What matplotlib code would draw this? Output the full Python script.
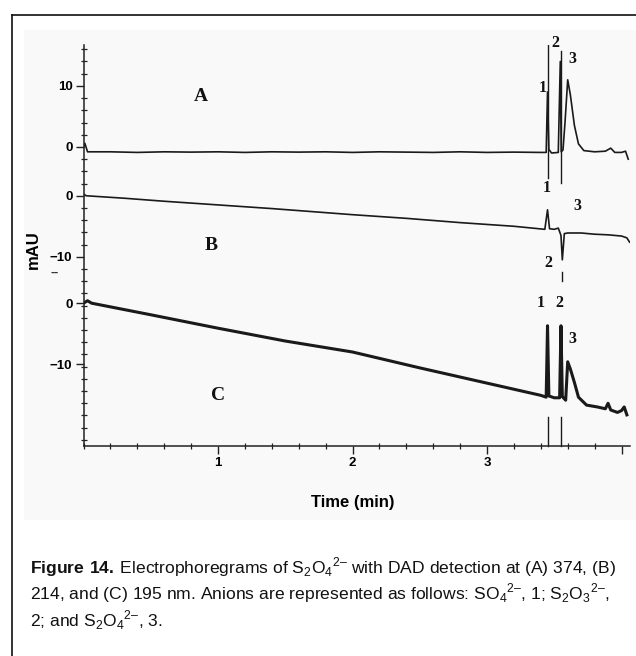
import matplotlib
matplotlib.use("Agg")
import matplotlib.pyplot as plt
from matplotlib.ticker import MultipleLocator, FixedLocator
from matplotlib.patches import Rectangle
from matplotlib.lines import Line2D

# offsets of the three traces on the common mAU axis
offset_A = 0.0
offset_B = -8.0
offset_C = -25.6

# trace A (374 nm)
time_A = [0.0, 0.01, 0.03, 0.2, 0.4, 0.6, 0.8, 1.0, 1.2, 1.4, 1.6, 1.8, 2.0, 2.2, 2.4, 2.6, 2.8, 3.0,
          3.2, 3.4, 3.44, 3.45, 3.46, 3.48, 3.53, 3.545, 3.552, 3.565, 3.58, 3.60, 3.62, 3.65, 3.68,
          3.72, 3.8, 3.88, 3.92, 3.95, 4.0, 4.03, 4.05]
mau_A = [0.0, 0.6, -0.8, -0.8, -0.9, -0.8, -0.85, -0.8, -0.9, -0.8, -0.85, -0.8, -0.9, -0.8, -0.85,
         -0.9, -0.8, -0.9, -0.85, -0.9, -0.9, 9.0, -0.4, -1.0, -0.9, 14.0, -0.8, -0.5, 4.0, 11.0, 8.5,
         3.5, 0.5, -0.6, -0.8, -0.7, -0.2, -0.9, -0.9, -0.7, -2.0]

# trace B (214 nm)
time_B = [0.0, 0.02, 0.3, 0.6, 1.0, 1.4, 1.76, 2.0, 2.4, 2.8, 3.2, 3.43, 3.45, 3.465, 3.5, 3.53,
          3.55, 3.56, 3.575, 3.6, 3.7, 3.8, 3.9, 4.0, 4.04, 4.06]
mau_B = [0.3, 0.0, -0.4, -0.9, -1.5, -2.1, -2.7, -3.1, -3.7, -4.4, -5.0, -5.5, -2.3, -5.4, -5.5, -5.3,
         -6.5, -10.5, -6.2, -6.1, -6.1, -6.3, -6.4, -6.6, -6.9, -7.6]

# trace C (195 nm)
time_C = [0.0, 0.03, 0.06, 0.5, 1.0, 1.5, 2.0, 2.5, 3.0, 3.4, 3.44, 3.45, 3.46, 3.5, 3.54, 3.55,
          3.56, 3.585, 3.60, 3.62, 3.65, 3.68, 3.74, 3.82, 3.88, 3.90, 3.92, 3.97, 4.0, 4.02, 4.04]
mau_C = [0.0, 0.4, 0.0, -1.9, -4.1, -6.2, -8.0, -10.6, -13.1, -15.1, -15.4, -3.7, -15.2, -15.5,
         -15.5, -3.7, -15.3, -15.9, -9.6, -10.8, -13.0, -15.4, -16.7, -17.0, -17.3, -16.4, -17.5,
         -17.9, -17.6, -17.0, -18.3]

# peak positions (min) and marker lines
peak_times = [3.45, 3.55]
A_marks = [(16.7, -5.1), (15.7, -5.9)]
C_marks = (-44.3, -49.0)

ytick_pos = [10, 0, offset_B, offset_B - 10, offset_C, offset_C - 10]
ytick_lab = ["10", "0", "0", "\u221210", "0", "\u221210"]

caption = [
    r"$\mathbf{Figure\ 14.}\,$Electrophoregrams of S$_\mathrm{2}$O$_\mathrm{4}$$^\mathrm{2–}$ with DAD detection at (A) 374, (B)",
    r"214, and (C) 195 nm. Anions are represented as follows: SO$_\mathrm{4}$$^\mathrm{2–}$, 1; S$_\mathrm{2}$O$_\mathrm{3}$$^\mathrm{2–}$,",
    r"2; and S$_\mathrm{2}$O$_\mathrm{4}$$^\mathrm{2–}$, 3.",
]

cap_font = "Liberation Sans"
plt.rcParams["mathtext.fontset"] = "custom"
plt.rcParams["mathtext.rm"] = cap_font
plt.rcParams["mathtext.bf"] = cap_font + ":bold"

W, H = 636, 656
fig = plt.figure(figsize=(W / 100, H / 100), dpi=100)
fig.patch.set_facecolor("white")

# light scan panel and the cut-off frame
fig.patches.append(Rectangle((24 / W, 1 - 520 / H), 1 - 24 / W, (520 - 30) / H,
                             transform=fig.transFigure, facecolor="#f9f9f9", edgecolor="none", zorder=-5))
fig.lines.append(Line2D([12 / W, 12 / W], [0, 1 - 15 / H], transform=fig.transFigure, color="#111", lw=1.2))
fig.lines.append(Line2D([12 / W, 1], [1 - 15 / H, 1 - 15 / H], transform=fig.transFigure, color="#111", lw=1.2))

x0, x1 = 83.5, 629.5
y0, y1 = 446, 45
ax = fig.add_axes([x0 / W, 1 - y0 / H, (x1 - x0) / W, (y0 - y1) / H])
ax.set_facecolor("none")
ax.set_xlim(0, (x1 - x0) / 134.5)
ax.set_ylim(-49.0, 16.7)
ax.spines["top"].set_visible(False)
ax.spines["right"].set_visible(False)
for s in ("left", "bottom"):
    ax.spines[s].set_linewidth(1.1)
    ax.spines[s].set_color("#222")

trace_col = "#1a1a1a"
ax.plot(time_A, [v + offset_A for v in mau_A], color=trace_col, lw=1.2)
ax.plot(time_B, [v + offset_B for v in mau_B], color=trace_col, lw=1.2)
ax.plot(time_C, [v + offset_C for v in mau_C], color=trace_col, lw=2.2)

for t, (top, bot) in zip(peak_times, A_marks):
    ax.plot([t, t], [top, bot], color=trace_col, lw=1.0)
    ax.plot([t, t], list(C_marks), color=trace_col, lw=1.0, clip_on=False)
ax.plot([3.555, 3.555], [-20.5, -22.0], color=trace_col, lw=1.0)

serif = dict(family="Liberation Serif", weight="bold", color="#111", ha="center", va="center")
for t, y, s in [(3.415, 9.7, "1"), (3.51, 17.0, "2"), (3.635, 14.4, "3"),
                (3.445, -6.7, "1"), (3.67, -9.7, "3"), (3.46, -19.0, "2"),
                (3.40, -25.6, "1"), (3.535, -25.6, "2"), (3.635, -31.5, "3")]:
    ax.text(t, y, s, fontsize=11.5, clip_on=False, **serif)
for t, y, s in [(0.87, 8.2, "A"), (0.95, -16.1, "B"), (1.0, -40.8, "C")]:
    ax.text(t, y, s, fontsize=14, **serif)

ax.xaxis.set_major_locator(FixedLocator([1, 2, 3, 4]))
ax.set_xticklabels(["1", "2", "3", ""])
ax.xaxis.set_minor_locator(MultipleLocator(0.2))
ax.yaxis.set_major_locator(FixedLocator(ytick_pos))
ax.set_yticklabels(ytick_lab)
ax.yaxis.set_minor_locator(MultipleLocator(2))
ax.tick_params(axis="both", which="major", direction="out", length=6, width=1.0, color="#222",
               labelsize=9.5, pad=2)
ax.tick_params(axis="both", which="minor", direction="inout", length=4, width=0.9, color="#222")
for lab in ax.get_xticklabels() + ax.get_yticklabels():
    lab.set_fontweight("bold")
    lab.set_family("Liberation Sans")

ax.text(-0.045, -20.7, "--", transform=ax.get_yaxis_transform(), ha="right", va="center",
        fontsize=9, fontweight="bold", family="Liberation Sans", color="#333")

fig.text(33 / W, 1 - 250 / H, "mAU", rotation=90, ha="center", va="center",
         fontsize=12, fontweight="bold", family="Liberation Sans")
fig.text(353 / W, 1 - 502 / H, "Time (min)", ha="center", va="center",
         fontsize=12, fontweight="bold", family="Liberation Sans")

for i, line in enumerate(caption):
    fig.text(30 / W, 1 - (567 + 26.5 * i) / H, line, ha="left", va="center",
             fontsize=12.6, family=cap_font, color="#111")

fig.savefig("out.png", dpi=100)
